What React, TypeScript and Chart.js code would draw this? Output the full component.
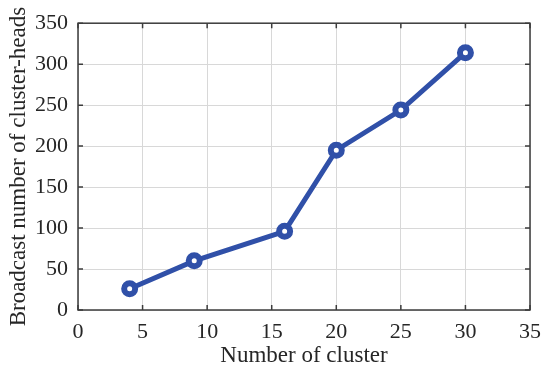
import React, { useEffect, useRef } from "react";
import { Chart, registerables } from "chart.js";

Chart.register(...registerables);

const clusterCounts = [4, 9, 16, 20, 25, 30];
const broadcastCounts = [26, 60, 96, 195, 244, 314];
const xTicks = [0, 5, 10, 15, 20, 25, 30, 35];
const yTicks = [0, 50, 100, 150, 200, 250, 300, 350];

const FONT = "'Liberation Serif', 'Times New Roman', serif";
const LINE_COLOR = "#3050a8";

const boxPlugin = {
  id: "boxPlugin",
  afterDatasetsDraw(chart: any) {
    const { ctx, chartArea, scales } = chart;
    const { left, right, top, bottom } = chartArea;
    ctx.save();
    ctx.strokeStyle = "#3c3c3c";
    ctx.lineWidth = 1.5;
    const tl = 5;
    ctx.beginPath();
    scales.x.ticks.forEach((_t: any, i: number) => {
      const px = scales.x.getPixelForTick(i);
      ctx.moveTo(px, bottom);
      ctx.lineTo(px, bottom - tl);
      ctx.moveTo(px, top);
      ctx.lineTo(px, top + tl);
    });
    scales.y.ticks.forEach((_t: any, i: number) => {
      const py = scales.y.getPixelForTick(i);
      ctx.moveTo(left, py);
      ctx.lineTo(left + tl, py);
      ctx.moveTo(right, py);
      ctx.lineTo(right - tl, py);
    });
    ctx.stroke();
    ctx.strokeRect(left, top, right - left, bottom - top);
    ctx.restore();
  },
};

export default function App() {
  const canvasRef = useRef<HTMLCanvasElement | null>(null);

  useEffect(() => {
    document.body.style.margin = "0";
    const canvas = canvasRef.current;
    if (!canvas) return;
    const chart = new Chart(canvas, {
      type: "line",
      data: {
        datasets: [
          {
            data: clusterCounts.map((x, i) => ({ x, y: broadcastCounts[i] })),
            borderColor: LINE_COLOR,
            borderWidth: 5,
            pointRadius: 5.5,
            pointBorderWidth: 6,
            pointBackgroundColor: "#ffffff",
            pointBorderColor: LINE_COLOR,
            tension: 0,
          },
        ],
      },
      options: {
        responsive: false,
        animation: false,
        events: [],
        layout: { padding: { top: 13, right: 15, left: 0, bottom: 0 } },
        plugins: { legend: { display: false }, tooltip: { enabled: false } },
        scales: {
          x: {
            type: "linear",
            min: 0,
            max: 35,
            afterBuildTicks: (scale: any) => {
              scale.ticks = xTicks.map((v) => ({ value: v }));
            },
            afterFit: (scale: any) => {
              scale.height = 64;
            },
            grid: { color: "#d8d8d8", lineWidth: 1, drawTicks: false },
            border: { display: false },
            ticks: {
              padding: 9,
              color: "#262626",
              font: { family: FONT, size: 22 },
              maxRotation: 0,
            },
            title: {
              display: true,
              text: "Number of cluster",
              color: "#262626",
              font: { family: FONT, size: 23 },
              padding: { top: 0, bottom: 4 },
            },
          },
          y: {
            type: "linear",
            min: 0,
            max: 350,
            afterBuildTicks: (scale: any) => {
              scale.ticks = yTicks.map((v) => ({ value: v }));
            },
            afterFit: (scale: any) => {
              scale.width = 78;
            },
            grid: { color: "#d8d8d8", lineWidth: 1, drawTicks: false },
            border: { display: false },
            ticks: {
              padding: 10,
              color: "#262626",
              font: { family: FONT, size: 22 },
            },
            title: {
              display: true,
              text: "Broadcast number of cluster-heads",
              color: "#262626",
              font: { family: FONT, size: 23 },
              padding: { top: 5, bottom: 0 },
            },
          },
        },
      },
      plugins: [boxPlugin],
    });
    return () => chart.destroy();
  }, []);

  return (
    <div style={{ width: 550, height: 374 }}>
      <canvas ref={canvasRef} width={550} height={374} style={{ display: "block" }} />
    </div>
  );
}
